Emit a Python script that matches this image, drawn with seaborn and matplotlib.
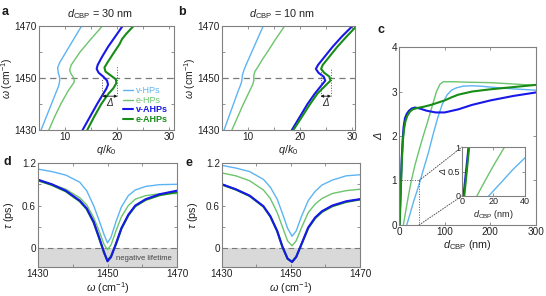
import numpy as np
import matplotlib
matplotlib.use('Agg')
import matplotlib.pyplot as plt
from matplotlib.lines import Line2D
from matplotlib.patches import ConnectionPatch
import seaborn as sns

sns.set_theme(style='ticks')
plt.rcParams['font.family'] = ['Liberation Sans', 'DejaVu Sans']
plt.rcParams['mathtext.fontset'] = 'custom'
plt.rcParams['mathtext.rm'] = 'Liberation Sans'
plt.rcParams['mathtext.it'] = 'Liberation Sans:italic'
plt.rcParams['mathtext.bf'] = 'Liberation Sans:bold'

# ---- 数据 ----
# a: d_CBP = 30 nm  (omega, q/k0)
a_vhp_w = [1430, 1435, 1440, 1445, 1447, 1449, 1450.5, 1452, 1454, 1456, 1460, 1465, 1470]
a_vhp_q = [5.4, 6.4, 7.4, 8.4, 8.8, 9.0, 8.95, 8.7, 8.6, 9.0, 10.2, 11.7, 13.2]
a_ehp_w = [1430, 1435, 1440, 1445, 1447, 1448.5, 1450, 1451.5, 1453, 1455, 1460, 1465, 1470]
a_ehp_q = [6.9, 8.0, 9.2, 10.6, 11.3, 11.8, 11.7, 11.2, 10.9, 11.2, 12.9, 15.0, 17.2]
a_vahp_w = [1430, 1435, 1440, 1444, 1446, 1447.5, 1449, 1450.5, 1452, 1453.5, 1455, 1458, 1462, 1466, 1470]
a_vahp_q = [13.4, 14.8, 16.2, 17.4, 18.0, 18.3, 18.1, 17.4, 16.5, 16.1, 16.3, 17.1, 18.3, 19.7, 21.1]
a_eahp_w = [1430, 1435, 1440, 1444, 1446, 1448, 1449.5, 1451, 1452.5, 1454, 1456, 1460, 1463, 1465, 1467, 1470]
a_eahp_q = [14.3, 15.6, 17.0, 18.4, 19.3, 19.9, 19.8, 18.8, 17.8, 17.6, 18.2, 19.5, 20.5, 21.0, 21.8, 23.2]

# b: d_CBP = 10 nm
b_vhp_w = [1430, 1435, 1440, 1445, 1447.5, 1449, 1451, 1453, 1455, 1460, 1465, 1470]
b_vhp_q = [5.4, 6.3, 7.2, 8.1, 8.6, 8.8, 8.9, 9.2, 9.6, 10.7, 11.8, 12.9]
b_ehp_w = [1430, 1435, 1440, 1445, 1447.5, 1449, 1451, 1452.5, 1454, 1457, 1460, 1465, 1470]
b_ehp_q = [6.9, 8.0, 9.1, 10.3, 10.9, 11.1, 11.1, 11.3, 11.8, 12.7, 13.7, 15.3, 17.0]
b_vahp_w = [1430, 1435, 1440, 1444, 1447, 1449, 1450.5, 1452, 1453.5, 1455, 1458, 1462, 1466, 1470]
b_vahp_q = [18.4, 19.9, 21.4, 22.8, 24.0, 24.8, 24.5, 23.5, 23.0, 23.4, 24.6, 26.2, 28.0, 30.0]
b_eahp_w = [1430, 1435, 1440, 1444, 1447, 1449, 1450.5, 1452, 1453.5, 1455, 1458, 1462, 1466, 1470]
b_eahp_q = [18.7, 20.3, 21.9, 23.3, 24.8, 25.8, 25.6, 24.6, 24.0, 24.3, 25.5, 27.1, 28.9, 30.8]

# c: Delta vs d_CBP
c_vhp_d = [17, 25, 32, 40, 47, 55, 65, 75, 85, 95, 105, 115, 125, 140, 160, 180, 200, 250, 300]
c_vhp_D = [0, 0.28, 0.53, 0.78, 1.02, 1.3, 1.65, 2.05, 2.42, 2.72, 2.92, 3.03, 3.08, 3.12, 3.13, 3.12, 3.1, 3.06, 3.03]
c_ehp_d = [9.5, 15, 20, 27, 35, 45, 53, 62, 72, 82, 90, 97, 105, 120, 150, 200, 250, 300]
c_ehp_D = [0, 0.33, 0.62, 1.0, 1.35, 1.72, 2.0, 2.3, 2.65, 3.0, 3.17, 3.22, 3.22, 3.22, 3.21, 3.2, 3.17, 3.14]
c_vahp_d = [1, 4.2, 6, 8, 10, 13, 17, 22, 28, 35, 45, 60, 80, 100, 130, 160, 200, 250, 300]
c_vahp_D = [0, 1.0, 1.5, 1.9, 2.2, 2.4, 2.5, 2.57, 2.62, 2.64, 2.62, 2.57, 2.53, 2.53, 2.6, 2.7, 2.8, 2.9, 2.98]
c_eahp_d = [1.5, 4.6, 6.5, 8.5, 11, 14, 18, 24, 30, 40, 55, 70, 85, 100, 115, 130, 160, 200, 250, 300]
c_eahp_D = [0, 1.0, 1.5, 1.9, 2.15, 2.33, 2.45, 2.55, 2.6, 2.63, 2.66, 2.7, 2.75, 2.8, 2.87, 2.93, 3.0, 3.05, 3.1, 3.15]

# d: lifetime, d_CBP = 30 nm
d_w = [1430, 1434, 1438, 1442, 1444, 1446, 1447.5, 1449, 1450, 1451, 1452.5, 1454, 1456, 1458, 1461, 1465, 1470]
d_vhp = [1.115, 1.08, 1.03, 0.93, 0.81, 0.60, 0.40, 0.19, 0.07, 0.15, 0.38, 0.58, 0.74, 0.82, 0.87, 0.895, 0.90]
d_ehp = [0.965, 0.90, 0.83, 0.71, 0.61, 0.43, 0.25, 0.05, -0.024, 0.04, 0.25, 0.44, 0.60, 0.69, 0.74, 0.765, 0.77]
d_vahp = [0.965, 0.90, 0.81, 0.67, 0.56, 0.37, 0.16, -0.06, -0.19, -0.13, 0.07, 0.28, 0.47, 0.60, 0.69, 0.76, 0.81]
d_eahp = [0.955, 0.89, 0.80, 0.66, 0.55, 0.36, 0.15, -0.07, -0.18, -0.12, 0.06, 0.27, 0.46, 0.59, 0.68, 0.745, 0.79]

# e: lifetime, d_CBP = 10 nm
e_w = [1430, 1434, 1438, 1442, 1444, 1446, 1447.5, 1449, 1450.3, 1451.5, 1453, 1455, 1457, 1459, 1462, 1466, 1470]
e_vhp = [1.167, 1.13, 1.08, 0.97, 0.86, 0.69, 0.49, 0.28, 0.165, 0.24, 0.44, 0.67, 0.80, 0.89, 0.96, 1.02, 1.035]
e_ehp = [1.06, 1.02, 0.95, 0.82, 0.70, 0.50, 0.30, 0.10, 0.03, 0.10, 0.28, 0.50, 0.62, 0.70, 0.77, 0.81, 0.83]
e_vahp = [0.90, 0.83, 0.74, 0.59, 0.45, 0.24, 0.02, -0.15, -0.20, -0.13, 0.05, 0.29, 0.43, 0.52, 0.60, 0.66, 0.69]
e_eahp = [0.895, 0.825, 0.735, 0.585, 0.445, 0.235, 0.015, -0.155, -0.195, -0.125, 0.045, 0.28, 0.42, 0.51, 0.59, 0.65, 0.685]

NAMES = ['v-HPs', 'e-HPs', 'v-AHPs', 'e-AHPs']
COLORS = {'v-HPs': '#5DB4F2', 'e-HPs': '#6CC46C', 'v-AHPs': '#1818E8', 'e-AHPs': '#178C17'}
LW = {'v-HPs': 1.0, 'e-HPs': 1.0, 'v-AHPs': 1.5, 'e-AHPs': 1.5}
SPINE = '#808080'
TXT = '#222222'
FS = 7.8      # 轴标题
TFS = 7.2     # 刻度数字


def curve(ax, x, y, key, sort=True):
    sns.lineplot(x=x, y=y, ax=ax, color=COLORS[key], lw=LW[key], sort=sort, estimator=None)


def style(ax, fs=TFS):
    ax.tick_params(which='both', direction='in', top=True, right=True, length=2.5,
                   width=0.6, color=SPINE, labelsize=fs, labelcolor=TXT, pad=1.5)
    for s in ax.spines.values():
        s.set_color(SPINE)
        s.set_linewidth(0.8)


fig = plt.figure(figsize=(5.46, 2.96), dpi=100)

# ---- a, b: 色散曲线 ----
disp = {
    'a': (a_vhp_w, a_vhp_q, a_ehp_w, a_ehp_q, a_vahp_w, a_vahp_q, a_eahp_w, a_eahp_q),
    'b': (b_vhp_w, b_vhp_q, b_ehp_w, b_ehp_q, b_vahp_w, b_vahp_q, b_eahp_w, b_eahp_q),
}
rects = {'a': [0.0714, 0.561, 0.2473, 0.351], 'b': [0.4066, 0.561, 0.2436, 0.351]}
xmax = {'a': 31, 'b': 30.5}
delta = {'a': (17.2, 20.1, 1449.5, 1455), 'b': (23.9, 25.9, 1454, 1454)}

for k in ['a', 'b']:
    ax = fig.add_axes(rects[k])
    d = disp[k]
    for i, key in enumerate(NAMES):
        curve(ax, d[2 * i + 1], d[2 * i], key, sort=False)
    ax.axhline(1450, color='#7a7a7a', lw=0.9, ls=(0, (5, 3.5)), zorder=0)
    x1, x2, t1, t2 = delta[k]
    ax.plot([x1, x1], [1443, t1], ls=':', color='#555555', lw=0.7)
    ax.plot([x2, x2], [1443, t2], ls=':', color='#555555', lw=0.7)
    ax.annotate('', xy=(x2, 1443), xytext=(x1, 1443),
                arrowprops=dict(arrowstyle='<|-|>', lw=0.6, color='k', shrinkA=0, shrinkB=0,
                                mutation_scale=4))
    ax.text((x1 + x2) / 2, 1440.3, 'Δ', ha='center', va='center', fontsize=7,
            fontstyle='italic', color=TXT)
    ax.set_xlim(5, xmax[k])
    ax.set_ylim(1430, 1470)
    ax.set_xticks([10, 20, 30])
    ax.set_xticks([15, 25], minor=True)
    ax.set_yticks([1430, 1450, 1470])
    ax.set_yticks([1440, 1460], minor=True)
    ax.set_xlabel(r'$q/k_0$', fontsize=FS, color=TXT, labelpad=1)
    ax.set_ylabel(r'$\omega$ (cm$^{-1}$)', fontsize=FS - 0.3, color=TXT)
    ax.yaxis.set_label_coords(-0.18, 0.5)
    style(ax)
    if k == 'a':
        handles = [Line2D([], [], color=COLORS[n], lw=LW[n]) for n in NAMES]
        leg = ax.legend(handles, NAMES, loc='lower left', bbox_to_anchor=(0.62, 0.06),
                        frameon=False, fontsize=6.5, handlelength=1.1, handletextpad=0.35,
                        labelspacing=0.05, borderpad=0, borderaxespad=0)
        for t, n in zip(leg.get_texts(), NAMES):
            t.set_color(COLORS[n])
            if 'AHP' in n:
                t.set_fontweight('bold')

fig.text(100 / 546, 1 - 14 / 296, r'$d_{\rm CBP}$ = 30 nm', ha='center', va='center', fontsize=FS, color=TXT)
fig.text(282 / 546, 1 - 14 / 296, r'$d_{\rm CBP}$ = 10 nm', ha='center', va='center', fontsize=FS, color=TXT)

# ---- c: Delta vs d_CBP ----
c_data = [(c_vhp_d, c_vhp_D), (c_ehp_d, c_ehp_D), (c_vahp_d, c_vahp_D), (c_eahp_d, c_eahp_D)]
axc = fig.add_axes([0.7308, 0.240, 0.2509, 0.601])
for (x, y), key in zip(c_data, NAMES):
    curve(axc, x, y, key)
axc.set_xlim(0, 300)
axc.set_ylim(0, 4)
axc.set_xticks([0, 100, 200, 300])
axc.set_yticks([0, 1, 2, 3, 4])
axc.set_xlabel(r'$d_{\rm CBP}$ (nm)', fontsize=FS, color=TXT, labelpad=1)
axc.set_ylabel('Δ', fontsize=FS, fontstyle='italic', color=TXT, labelpad=5)
style(axc)
axc.plot([0, 44, 44], [1, 1, 0], ls=':', color='#555555', lw=0.7)

axi = fig.add_axes([0.846, 0.338, 0.1155, 0.165])
for (x, y), key in zip(c_data, NAMES):
    curve(axi, x, y, key)
axi.set_xlim(0, 40)
axi.set_ylim(0, 1)
axi.set_xticks([0, 20, 40])
axi.set_yticks([0, 0.5, 1])
axi.set_yticklabels(['0', '0.5', '1'])
axi.set_xlabel(r'$d_{\rm CBP}$ (nm)', fontsize=6.5, color=TXT, labelpad=1)
axi.set_ylabel('Δ', fontsize=6.5, fontstyle='italic', color=TXT, labelpad=0)
style(axi, fs=6.5)
axi.tick_params(pad=1)
for ya, yb in [(1, 1), (0, 0)]:
    con = ConnectionPatch(xyA=(44, ya), coordsA=axc.transData, xyB=(0, yb), coordsB=axi.transAxes,
                          ls=':', color='#555555', lw=0.7)
    fig.add_artist(con)

# ---- d, e: 寿命 ----
life = {'d': (d_w, [d_vhp, d_ehp, d_eahp, d_vahp]), 'e': (e_w, [e_vhp, e_ehp, e_eahp, e_vahp])}
life_rects = {'d': [0.0696, 0.098, 0.2546, 0.351], 'e': [0.4066, 0.098, 0.2527, 0.351]}
order = ['v-HPs', 'e-HPs', 'e-AHPs', 'v-AHPs']
for k in ['d', 'e']:
    ax = fig.add_axes(life_rects[k])
    w, ys = life[k]
    ax.axhspan(-0.3, 0, color='#d9d9d9', lw=0, zorder=0)
    ax.axhline(0, color='#7a7a7a', lw=0.8, ls=(0, (5, 3.5)), zorder=1)
    for y, key in zip(ys, order):
        curve(ax, w, y, key)
    ax.set_xlim(1430, 1470)
    ax.set_ylim(-0.27, 1.2)
    ax.set_xticks([1430, 1450, 1470])
    ax.set_xticks([1440, 1460], minor=True)
    ax.set_yticks([0, 0.6, 1.2])
    ax.set_yticklabels(['0', '0.6', '1.2'])
    ax.set_yticks([0.3, 0.9], minor=True)
    ax.set_xlabel(r'$\omega$ (cm$^{-1}$)', fontsize=FS, color=TXT, labelpad=1)
    ax.set_ylabel(r'$\tau$ (ps)', fontsize=FS, color=TXT, labelpad=4)
    style(ax)
    if k == 'd':
        ax.text(1468.5, -0.15, 'negative lifetime', ha='right', va='center', fontsize=5.5, color='#444444')

# ---- 面板标号 ----
for lab, x, y in [('a', 2, 12), ('b', 178, 12), ('c', 378, 30), ('d', 4, 162), ('e', 186, 163)]:
    fig.text(x / 546, 1 - y / 296, lab, ha='left', va='center', fontsize=9, fontweight='bold', color='k')

fig.savefig('out.png', dpi=100)
